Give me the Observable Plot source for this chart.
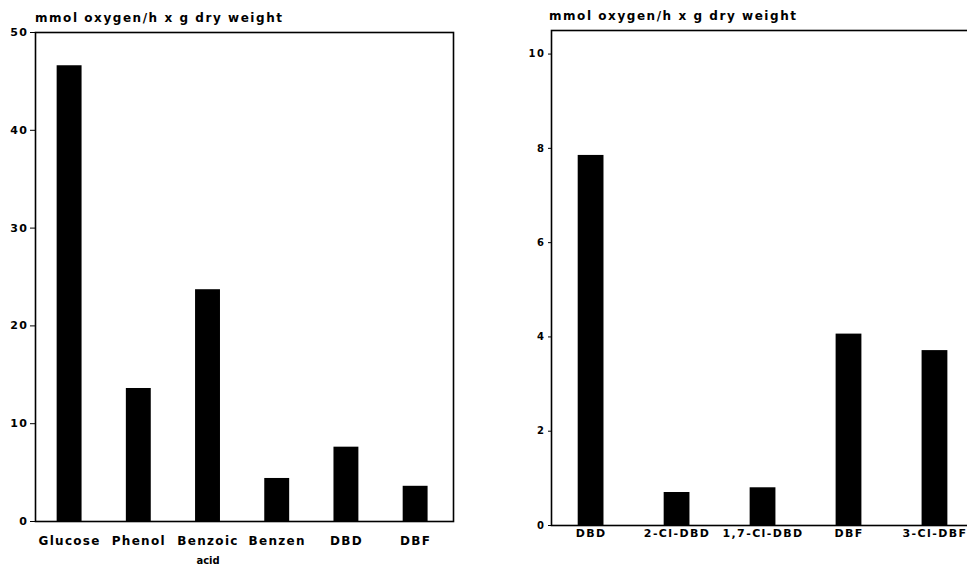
<!DOCTYPE html>
<html><head><meta charset="utf-8">
<script src="https://cdn.jsdelivr.net/npm/d3@7"></script>
<script src="https://cdn.jsdelivr.net/npm/@observablehq/plot@0.6"></script>
<style>
html,body{margin:0;padding:0;background:#fff;overflow:hidden;width:967px;height:567px;}
#left,#right{position:absolute;top:0;height:567px;}
#left{left:0;width:470px;}
#right{left:500px;width:500px;}
.ylab{position:absolute;font-family:"DejaVu Sans",sans-serif;font-weight:bold;font-size:12px;letter-spacing:1.55px;white-space:nowrap;color:#000;line-height:14px;}
g[aria-label="x-axis tick label"] text{letter-spacing:1.3px;}
#right g[aria-label="x-axis tick label"] text{letter-spacing:1.4px;}
g[aria-label="y-axis tick label"] text{letter-spacing:1.5px;}
</style></head><body>
<div id="left"></div><div id="right"></div>
<div class="ylab" id="ltitle" style="left:35px;top:11px"></div>
<div class="ylab" id="rtitle" style="left:549px;top:9px"></div>
<script>
const yTitle = "mmol oxygen/h x g dry weight";
const leftCats = ["Glucose", "Phenol", "Benzoic", "Benzen", "DBD", "DBF"];
const leftVals = [46.6, 13.6, 23.7, 4.4, 7.6, 3.6];
const leftTicks = [0, 10, 20, 30, 40, 50];
const leftSubCats = ["Benzoic"];
const leftSubLabels = ["acid"];
const rightCats = ["DBD", "2-Cl-DBD", "1,7-Cl-DBD", "DBF", "3-Cl-DBF"];
const rightVals = [7.85, 0.7, 0.8, 4.06, 3.71];
const rightTicks = [0, 2, 4, 6, 8, 10];

document.getElementById("ltitle").textContent = yTitle;
document.getElementById("rtitle").textContent = yTitle;

const leftData = leftCats.map((c, i) => ({cat: c, val: leftVals[i]}));
const rightData = rightCats.map((c, i) => ({cat: c, val: rightVals[i]}));
const subData = leftSubCats.map((c, i) => ({cat: c, text: leftSubLabels[i]}));

const baseStyle = {fontFamily: "DejaVu Sans, sans-serif", fontWeight: "bold", color: "black", background: "white", overflow: "visible"};

const left = Plot.plot({
  width: 470, height: 567,
  marginLeft: 35, marginRight: 17, marginTop: 32, marginBottom: 46,
  style: baseStyle,
  x: {domain: leftCats, paddingInner: 0.64, paddingOuter: 0.34, align: 0.46, round: false},
  y: {domain: [0, 50]},
  marks: [
    Plot.barY(leftData, {x: "cat", y: "val", fill: "black"}),
    Plot.frame({stroke: "black", strokeWidth: 1.6}),
    Plot.axisY({ticks: leftTicks, tickSize: 5, tickPadding: 2, label: null, fontSize: 11, tickFormat: d => d}),
    Plot.axisX({tickSize: 0, tickPadding: 15, label: null, fontSize: 12}),
    Plot.text(subData, {x: "cat", text: "text", frameAnchor: "bottom", dy: 42, fontSize: 10})
  ]
});
document.getElementById("left").appendChild(left);

const right = Plot.plot({
  width: 500, height: 567,
  marginLeft: 51, marginRight: 20, marginTop: 30, marginBottom: 42,
  style: baseStyle,
  x: {domain: rightCats, paddingInner: 0.7, paddingOuter: 0.345, align: 0.45, round: false},
  y: {domain: [0, 10.5]},
  marks: [
    Plot.barY(rightData, {x: "cat", y: "val", fill: "black"}),
    Plot.frame({stroke: "black", strokeWidth: 1.6}),
    Plot.axisY({ticks: rightTicks, tickSize: 3, tickPadding: 3, label: null, fontSize: 10, tickFormat: d => d}),
    Plot.axisX({tickSize: 0, tickPadding: 4, label: null, fontSize: 11})
  ]
});
document.getElementById("right").appendChild(right);
</script>
</body></html>
